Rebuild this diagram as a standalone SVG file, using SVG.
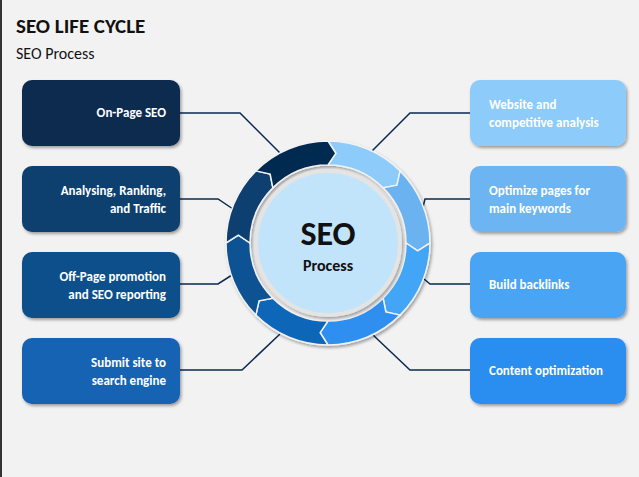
<svg xmlns="http://www.w3.org/2000/svg" width="639" height="477" viewBox="0 0 639 477">
<defs>
<style>
text{font-family:Calibri,"Carlito","Liberation Sans",sans-serif;font-weight:bold}
.bt{fill:#fff;font-size:13px}
.c{fill:none;stroke:#0a2a50;stroke-width:1.5}
.seg{stroke:#f2f2f2;stroke-width:1.5}
</style>
<path id="seg" d="M0,-102 A102,102 0 0 1 72.12,-72.12 L68.94,-57.85 L55.15,-55.15 A78,78 0 0 0 0,-78 L7.84,-89.66 Z"/>
<filter id="sh" x="-10%" y="-10%" width="130%" height="130%"><feDropShadow dx="1.5" dy="2" stdDeviation="1.5" flood-opacity="0.35"/></filter>
</defs>
<rect width="639" height="477" fill="#f2f2f2"/>
<rect x="0" y="0" width="2" height="477" fill="#333"/>
<text x="16" y="33" font-size="21" fill="#111">SEO LIFE CYCLE</text>
<text x="16" y="59" font-size="16" fill="#111" style="font-weight:normal">SEO Process</text>
<g id="connectors">
<polyline class="c" points="180,113 240,113 280,153"/>
<polyline class="c" points="180,199 218,199 233,209"/>
<polyline class="c" points="180,284 218,284 232,275"/>
<polyline class="c" points="180,370 242,370 280,334"/>
<polyline class="c" points="470,113 410,113 372,151"/>
<polyline class="c" points="470,199 425,199 423,207"/>
<polyline class="c" points="470,284 430,284 424,279"/>
<polyline class="c" points="470,370 410,370 373,335"/>
</g>
<g id="ring" transform="translate(328,243)" filter="url(#sh)">
<use href="#seg" class="seg" fill="#8ccbfa"/>
<use href="#seg" class="seg" fill="#6ab2f0" transform="rotate(45)"/>
<use href="#seg" class="seg" fill="#42a5f5" transform="rotate(90)"/>
<use href="#seg" class="seg" fill="#2e8ff0" transform="rotate(135)"/>
<use href="#seg" class="seg" fill="#0f66b8" transform="rotate(180)"/>
<use href="#seg" class="seg" fill="#0b5394" transform="rotate(225)"/>
<use href="#seg" class="seg" fill="#0a3f70" transform="rotate(270)"/>
<use href="#seg" class="seg" fill="#062a4f" transform="rotate(315)"/>
</g>
<g id="center">
<circle cx="328" cy="243" r="72" fill="#c2e4fb" stroke="#e4e4e4" stroke-width="4" filter="url(#sh)"/>
<text x="328" y="245" font-size="34" text-anchor="middle" fill="#111">SEO</text>
<text x="328" y="271" font-size="16" text-anchor="middle" fill="#111">Process</text>
</g>
<g id="node-left-1"><rect x="22" y="80" width="158" height="66" rx="10" fill="#0a2a50" filter="url(#sh)"/><text class="bt" x="166" y="117" text-anchor="end">On-Page SEO</text></g>
<g id="node-left-2"><rect x="22" y="166" width="158" height="66" rx="10" fill="#0d3f6e" filter="url(#sh)"/><text class="bt" x="166" y="195" text-anchor="end">Analysing, Ranking,</text><text class="bt" x="166" y="213" text-anchor="end">and Traffic</text></g>
<g id="node-left-3"><rect x="22" y="252" width="158" height="66" rx="10" fill="#0f4f8a" filter="url(#sh)"/><text class="bt" x="166" y="281" text-anchor="end">Off-Page promotion</text><text class="bt" x="166" y="299" text-anchor="end">and SEO reporting</text></g>
<g id="node-left-4"><rect x="22" y="338" width="158" height="66" rx="10" fill="#1464b4" filter="url(#sh)"/><text class="bt" x="166" y="367" text-anchor="end">Submit site to</text><text class="bt" x="166" y="385" text-anchor="end">search engine</text></g>
<g id="node-right-1"><rect x="470" y="80" width="156" height="66" rx="10" fill="#8ccbfa" filter="url(#sh)"/><text class="bt" x="489" y="109">Website and</text><text class="bt" x="489" y="127">competitive analysis</text></g>
<g id="node-right-2"><rect x="470" y="166" width="156" height="66" rx="10" fill="#6cb4f2" filter="url(#sh)"/><text class="bt" x="489" y="195">Optimize pages for</text><text class="bt" x="489" y="213">main keywords</text></g>
<g id="node-right-3"><rect x="470" y="252" width="156" height="66" rx="10" fill="#4aa5f3" filter="url(#sh)"/><text class="bt" x="489" y="289">Build backlinks</text></g>
<g id="node-right-4"><rect x="470" y="338" width="156" height="66" rx="10" fill="#2a8ef0" filter="url(#sh)"/><text class="bt" x="489" y="375">Content optimization</text></g>
</svg>
